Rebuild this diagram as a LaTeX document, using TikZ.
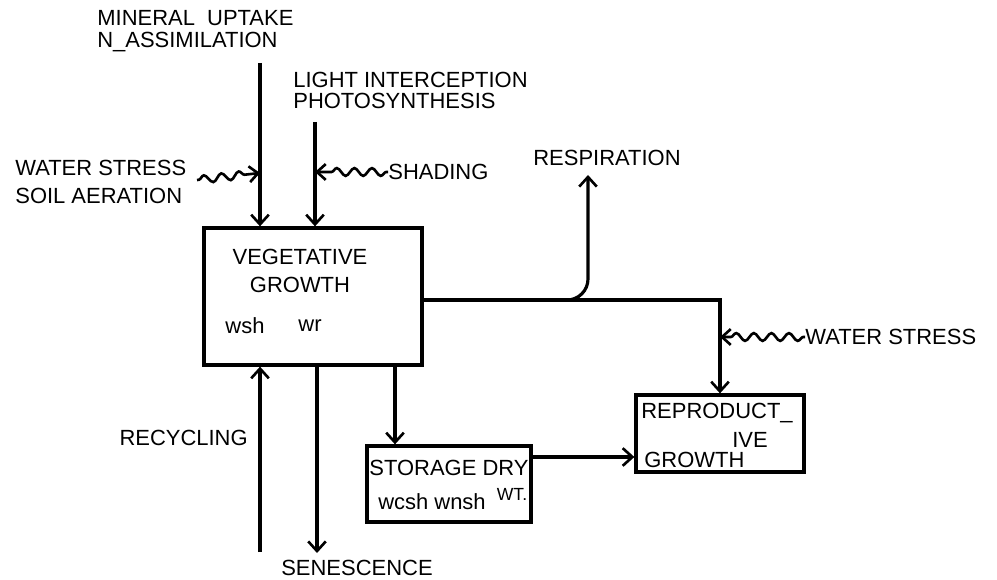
\documentclass[tikz,border=0pt]{standalone}
\usepackage{fontspec}
\setmainfont{Liberation Sans}
\usetikzlibrary{arrows.meta,decorations.pathmorphing}

\begin{document}
\begin{tikzpicture}[x=0.02cm,y=-0.02cm,
  flow/.style={line width=1.8pt,-{Straight Barb[length=5.5pt,width=10pt,line width=1.5pt]}},
  wavy/.style={line width=1.5pt,-{Straight Barb[length=5pt,width=9pt,line width=1.5pt]},
    decorate,decoration={snake,amplitude=2.2pt,segment length=10pt,pre length=1pt,post length=5pt}},
  box/.style={draw,line width=1.9pt,inner sep=0pt},
  lbl/.style={font=\fontsize{12.5}{16}\selectfont,inner sep=0pt,align=left}]
\useasboundingbox (0,0) rectangle (997,580);

% boxes
\node[box,minimum width=4.36cm,minimum height=2.74cm] (veg) at (313,296.5) {};
\node[box,minimum width=3.28cm,minimum height=1.52cm] (store) at (449,484) {};
\node[box,minimum width=3.36cm,minimum height=1.54cm] (repro) at (720,433.5) {};

\node[lbl,align=center] (vegname) at (300,271) {VEGETATIVE\\GROWTH};
\node[lbl] (vegwsh) at (245,326) {wsh};
\node[lbl] (vegwr) at (310,326) {wr};
\node[lbl] (storename) at (449,468) {STORAGE DRY};
\node[lbl] (storevar) at (432,502) {wcsh wnsh};
\node[lbl,font=\fontsize{10}{12}\selectfont] (storewt) at (512,494) {WT.};
\node[lbl,anchor=west] (reproa) at (641,413) {REPRODUCT\_};
\node[lbl] (reprob) at (750,440) {IVE};
\node[lbl,anchor=west] (reproc) at (644,460) {GROWTH};

% outside labels
\node[lbl,anchor=west,font=\fontsize{12.5}{12.5}\selectfont] (mineral) at (97,31) {MINERAL\ \ UPTAKE\\N\_ASSIMILATION};
\node[lbl,anchor=west,font=\fontsize{12.5}{12}\selectfont] (light) at (293,90) {LIGHT INTERCEPTION\\PHOTOSYNTHESIS};
\node[lbl,anchor=west] (wsleft) at (15,182) {WATER STRESS\\SOIL AERATION};
\node[lbl,anchor=west] (shading) at (388,172) {SHADING};
\node[lbl] (resp) at (607,158) {RESPIRATION};
\node[lbl,anchor=west] (wsright) at (805,337) {WATER STRESS};
\node[lbl,anchor=east] (recyc) at (248,438) {RECYCLING};
\node[lbl] (senes) at (357,568) {SENESCENCE};

% connector ends
\coordinate (mintop) at (260,63);
\coordinate (lighttop) at (315,122);
\coordinate (wsfrom) at (197,180);
\coordinate (wshit) at (260,173);
\coordinate (shadehit) at (315,172);
\coordinate (vegout) at (422,300);
\coordinate (corner) at (720,300);
\coordinate (respin) at (588,175);
\coordinate (wsrhit) at (720,337);
\coordinate (recbot) at (260,552);
\coordinate (sentop) at (317,365);
\coordinate (senbot) at (317,553);
\coordinate (stortop) at (395,365);
\coordinate (storout) at (531,457);

% flows
\draw[flow] (mintop) -- (mintop |- veg.north);
\draw[flow] (lighttop) -- (lighttop |- veg.north);
\draw[wavy] (wsfrom) -- (wshit);
\draw[wavy] (shading.west) -- (shadehit);
\draw[flow,rounded corners=12pt] (vegout) -| (respin);
\draw[flow] (vegout) -- (corner) -- (repro.north);
\draw[wavy] (wsright.west) -- (wsrhit);
\draw[flow] (recbot) -- (recbot |- veg.south);
\draw[flow] (sentop) -- (senbot);
\draw[flow] (stortop) -- (stortop |- store.north);
\draw[flow] (storout) -- (storout -| repro.west);
\end{tikzpicture}
\end{document}
